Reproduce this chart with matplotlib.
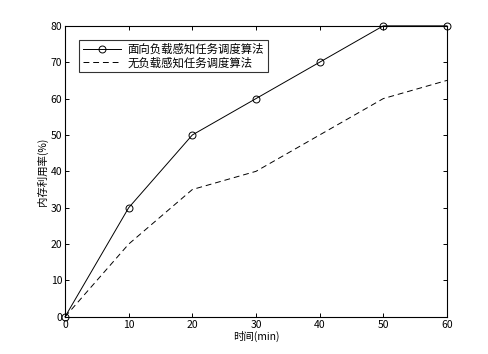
import matplotlib
matplotlib.use('Agg')
import matplotlib.pyplot as plt

plt.rcParams['font.family'] = ['Noto Sans CJK SC', 'DejaVu Sans']

# datos
tiempo = [0, 10, 20, 30, 40, 50, 60]
con_carga = [0, 30, 50, 60, 70, 80, 80]
sin_carga = [0, 20, 35, 40, 50, 60, 65]
etiquetas = ['面向负载感知任务调度算法', '无负载感知任务调度算法']

fig = plt.figure(figsize=(4.89, 3.54), dpi=100)
ax = fig.add_axes([0.133, 0.105, 0.781, 0.822])

ax.plot(tiempo, con_carga, '-', color='black', lw=0.7, marker='o', ms=5,
        mfc='none', mec='black', mew=0.7, label=etiquetas[0], clip_on=False)
ax.plot(tiempo, sin_carga, '--', color='black', lw=0.7, dashes=(6, 4),
        label=etiquetas[1], clip_on=False)

ax.set_xlim(0, 60)
ax.set_ylim(0, 80)
ax.set_xticks(tiempo)
ax.set_yticks(range(0, 81, 10))
ax.tick_params(direction='in', length=3, width=0.7, labelsize=7.5, pad=2,
               top=True, right=True)
for s in ax.spines.values():
    s.set_linewidth(0.8)

ax.set_xlabel('时间(min)', fontsize=7.5, labelpad=1)
ax.set_ylabel('内存利用率(%)', fontsize=7.5, labelpad=2)

leg = ax.legend(loc='upper left', fontsize=8.2, frameon=True, fancybox=False,
                edgecolor='black', handlelength=3.4, borderaxespad=1.2,
                labelspacing=0.2, borderpad=0.35, handletextpad=0.5)
leg.get_frame().set_linewidth(0.8)

fig.savefig('out.png', dpi=100)
